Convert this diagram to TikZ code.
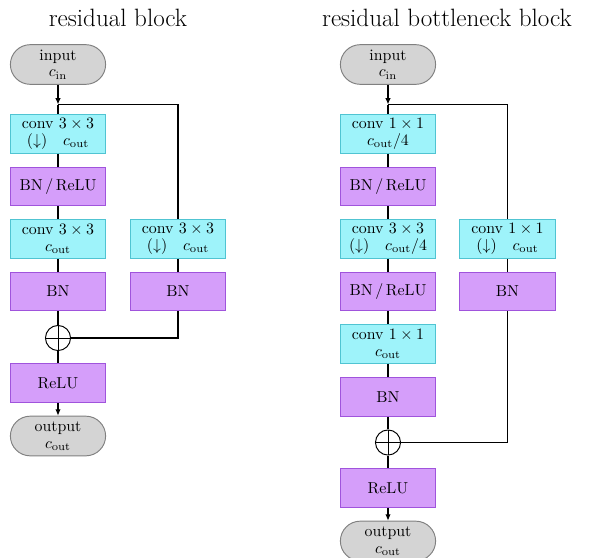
\documentclass[tikz,border=0pt]{standalone}
\usetikzlibrary{arrows.meta}
\definecolor{convfill}{RGB}{158,243,250}
\definecolor{convdraw}{RGB}{80,196,210}
\definecolor{normfill}{RGB}{213,158,250}
\definecolor{normdraw}{RGB}{160,84,220}
\definecolor{iofill}{RGB}{212,212,212}
\definecolor{iodraw}{RGB}{128,128,128}
\tikzset{
  blk/.style={rectangle, minimum width=60pt, minimum height=24.4pt, inner sep=1pt,
    align=center, line width=0.6pt},
  convbox/.style={blk, fill=convfill, draw=convdraw},
  normbox/.style={blk, fill=normfill, draw=normdraw},
  iobox/.style={blk, rounded corners=12.5pt, fill=iofill, draw=iodraw, minimum height=25pt},
  addop/.style={circle, draw, line width=0.6pt, minimum size=15.8pt, inner sep=0pt,
    path picture={\draw[line width=0.6pt]
      (path picture bounding box.north) -- (path picture bounding box.south)
      (path picture bounding box.west) -- (path picture bounding box.east);}},
  link/.style={line width=0.65pt},
  flow/.style={line width=0.65pt, -{Latex[length=4pt,width=3.4pt]}},
  heading/.style={font=\fontsize{15.8}{19}\selectfont, inner sep=0pt}
}
\newcommand{\cin}{$c_{\mathrm{in}}$}
\newcommand{\cout}{$c_{\mathrm{out}}$}
\begin{document}
\begin{tikzpicture}[x=0.63pt, y=-0.63pt]
\useasboundingbox (0,0) rectangle (589,558);

% ---------- residual block ----------
\node[heading] (t1) at (118,18) {residual block};
\node[iobox] (in1) at (58,64.5) {input\\[-1.5pt]\cin};
\coordinate (j1) at (58,104.5);
\node[convbox] (c11) at (58,134) {conv $3\times3$\\[-1.5pt]$(\downarrow)\quad c_{\mathrm{out}}$};
\node[normbox] (n11) at (58,186.5) {BN\,/\,ReLU};
\node[convbox] (c12) at (58,239) {conv $3\times3$\\[-1.5pt]\cout};
\node[normbox] (n12) at (58,291.5) {BN};
\node[addop] (p1) at (58,338) {};
\node[normbox] (r1) at (58,383) {ReLU};
\node[iobox] (out1) at (58,436) {output\\[-1.5pt]\cout};
\node[convbox] (s1c) at (178,239) {conv $3\times3$\\[-1.5pt]$(\downarrow)\quad c_{\mathrm{out}}$};
\node[normbox] (s1n) at (178,291.5) {BN};

\draw[flow] (in1.south) -- (j1);
\draw[link] (j1) -- (c11.north);
\draw[link] (j1) -| (s1c.north);
\draw[link] (c11) -- (n11);
\draw[link] (n11) -- (c12);
\draw[link] (c12) -- (n12);
\draw[link] (n12) -- (p1);
\draw[link] (p1) -- (r1);
\draw[flow] (r1.south) -- (out1.north);
\draw[link] (s1c) -- (s1n);
\draw[link] (s1n.south) |- (p1.east);

% ---------- residual bottleneck block ----------
\node[heading] (t2) at (447,18) {residual bottleneck block};
\node[iobox] (in2) at (388,64.5) {input\\[-1.5pt]\cin};
\coordinate (j2) at (388,104.5);
\node[convbox] (c21) at (388,134) {conv $1\times1$\\[-1.5pt]$c_{\mathrm{out}}/4$};
\node[normbox] (n21) at (388,186.5) {BN\,/\,ReLU};
\node[convbox] (c22) at (388,239) {conv $3\times3$\\[-1.5pt]$(\downarrow)\quad c_{\mathrm{out}}/4$};
\node[normbox] (n22) at (388,291.5) {BN\,/\,ReLU};
\node[convbox] (c23) at (388,344) {conv $1\times1$\\[-1.5pt]\cout};
\node[normbox] (n23) at (388,397) {BN};
\node[addop] (p2) at (388,442.5) {};
\node[normbox] (r2) at (388,488) {ReLU};
\node[iobox] (out2) at (388,541) {output\\[-1.5pt]\cout};
\node[convbox] (s2c) at (507.5,239) {conv $1\times1$\\[-1.5pt]$(\downarrow)\quad c_{\mathrm{out}}$};
\node[normbox] (s2n) at (507.5,291.5) {BN};

\draw[flow] (in2.south) -- (j2);
\draw[link] (j2) -- (c21.north);
\draw[link] (j2) -| (s2c.north);
\draw[link] (c21) -- (n21);
\draw[link] (n21) -- (c22);
\draw[link] (c22) -- (n22);
\draw[link] (n22) -- (c23);
\draw[link] (c23) -- (n23);
\draw[link] (n23) -- (p2);
\draw[link] (p2) -- (r2);
\draw[flow] (r2.south) -- (out2.north);
\draw[link] (s2c) -- (s2n);
\draw[link] (s2n.south) |- (p2.east);
\end{tikzpicture}
\end{document}
